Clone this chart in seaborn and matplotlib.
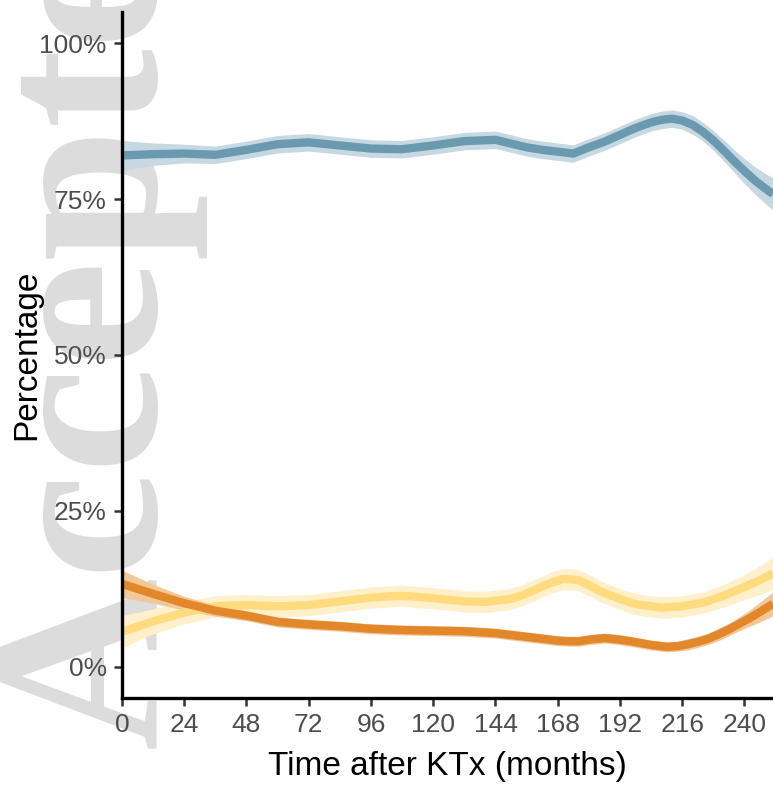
import numpy as np
import pandas as pd
import matplotlib
matplotlib.use("Agg")
import matplotlib.pyplot as plt
import seaborn as sns

# smoothed curves (months after KTx, percent)
blue_x = [0, 12, 24, 36, 48, 60, 72, 84, 96, 108, 120, 132, 144, 156, 162, 168, 174,
          180, 186, 192, 198, 204, 208, 212, 216, 220, 224, 228, 232, 236, 240,
          244, 248, 251]
blue_y = [82.0, 82.2, 82.3, 82.1, 82.9, 83.8, 84.1, 83.6, 83.1, 83.0, 83.6, 84.3,
          84.5, 83.3, 82.9, 82.6, 82.3, 83.3, 84.2, 85.3, 86.4, 87.3, 87.7, 87.9,
          87.6, 86.9, 85.8, 84.4, 82.8, 81.1, 79.5, 78.0, 76.7, 75.8]
blue_se = [2.4, 1.8, 1.5, 1.4, 1.4, 1.4, 1.4, 1.4, 1.4, 1.4, 1.4, 1.4, 1.4, 1.4,
           1.4, 1.4, 1.4, 1.4, 1.4, 1.4, 1.4, 1.4, 1.4, 1.4, 1.4, 1.5, 1.5, 1.6,
           1.7, 1.8, 2.0, 2.2, 2.4, 2.6]

yellow_x = [0, 12, 24, 36, 48, 60, 72, 84, 96, 108, 120, 132, 140, 150, 155, 160,
            165, 170, 176, 180, 184, 188, 192, 196, 200, 208, 216, 224, 232, 240, 246, 251]
yellow_y = [5.6, 7.3, 8.7, 9.7, 9.9, 9.7, 9.9, 10.5, 11.1, 11.4, 11.0, 10.5, 10.4,
            10.9, 11.6, 12.5, 13.4, 14.1, 13.9, 13.1, 12.2, 11.5, 10.9, 10.3, 9.9,
            9.5, 9.7, 10.3, 11.4, 12.8, 13.9, 15.0]
yellow_se = [2.6, 2.0, 1.8, 1.7, 1.7, 1.7, 1.7, 1.7, 1.7, 1.7, 1.7, 1.7, 1.7, 1.7,
             1.7, 1.7, 1.7, 1.7, 1.7, 1.7, 1.7, 1.7, 1.7, 1.7, 1.7, 1.7, 1.7, 1.7,
             1.8, 2.0, 2.3, 2.6]

orange_x = [0, 12, 24, 36, 48, 60, 72, 84, 96, 108, 120, 132, 144, 156, 168, 172,
            176, 181, 186, 191, 196, 200, 204, 210, 214, 218, 222, 226, 230, 234,
            238, 242, 246, 251]
orange_y = [13.3, 11.7, 10.2, 9.0, 8.2, 7.2, 6.8, 6.5, 6.1, 5.9, 5.8, 5.7, 5.4,
            4.8, 4.2, 4.1, 4.1, 4.4, 4.6, 4.4, 4.1, 3.8, 3.5, 3.2, 3.3, 3.6, 4.0,
            4.5, 5.2, 6.0, 6.9, 7.8, 8.8, 10.1]
orange_se = [2.2, 1.5, 1.1, 0.9, 0.8, 0.8, 0.8, 0.8, 0.8, 0.8, 0.8, 0.8, 0.8,
             0.8, 0.8, 0.8, 0.8, 0.8, 0.8, 0.8, 0.8, 0.8, 0.8, 0.8, 0.8, 0.9, 0.9,
             0.9, 1.0, 1.0, 1.1, 1.3, 1.6, 1.9]

x_ticks = [0, 24, 48, 72, 96, 120, 144, 168, 192, 216, 240]
y_ticks = [0, 25, 50, 75, 100]
y_labels = ["0%", "25%", "50%", "75%", "100%"]

line_cols = {"blue": "#6b9ab0", "yellow": "#ffdb80", "orange": "#e2882b"}
band_cols = {"blue": "#c6d9e2", "yellow": "#fff0cc", "orange": "#f3c898"}

series = {
    "blue": (blue_x, blue_y, blue_se),
    "yellow": (yellow_x, yellow_y, yellow_se),
    "orange": (orange_x, orange_y, orange_se),
}

rows = []
for name, (xs, ys, se) in series.items():
    for a, b in zip(xs, ys):
        rows.append({"month": a, "pct": b, "group": name})
df = pd.DataFrame(rows)

sns.set_theme(style="ticks")
plt.rcParams["font.family"] = ["Liberation Sans", "DejaVu Sans"]

fig = plt.figure(figsize=(7.73, 7.89), dpi=100)
ax = fig.add_axes([122 / 773, 1 - 698 / 789, 1 - 122 / 773, (698 - 12) / 789])
ax.set_facecolor("none")

# watermark behind the axes
fig.text(155 / 773, 1 - 748 / 789, "Accepted", rotation=90, rotation_mode="anchor",
         ha="left", va="baseline", fontsize=172, fontweight="bold", color="#dcdcdc",
         family="Liberation Serif", zorder=-5)

for name, (xs, ys, se) in series.items():
    lo = np.array(ys) - np.array(se)
    hi = np.array(ys) + np.array(se)
    ax.fill_between(xs, lo, hi, color=band_cols[name], lw=0, zorder=1)

sns.lineplot(data=df, x="month", y="pct", hue="group", palette=line_cols,
             linewidth=6, legend=False, ax=ax, zorder=2)
for ln in ax.lines:
    ln.set_solid_capstyle("butt")
    ln.set_solid_joinstyle("round")

ax.set_xlim(0, 251)
ax.set_ylim(-5, 105)
ax.set_xticks(x_ticks)
ax.set_yticks(y_ticks)
ax.set_yticklabels(y_labels)
ax.set_xlabel("Time after KTx (months)", fontsize=24, color="black", labelpad=10)
ax.set_ylabel("Percentage", fontsize=24, color="black", labelpad=-2)
ax.tick_params(axis="both", length=6, width=1.8, color="#333333",
               labelsize=19, labelcolor="#4d4d4d", pad=5)
for s in ["left", "bottom"]:
    ax.spines[s].set_linewidth(2.4)
    ax.spines[s].set_color("black")
for s in ["top", "right"]:
    ax.spines[s].set_visible(False)

fig.savefig("out.png", dpi=100)
